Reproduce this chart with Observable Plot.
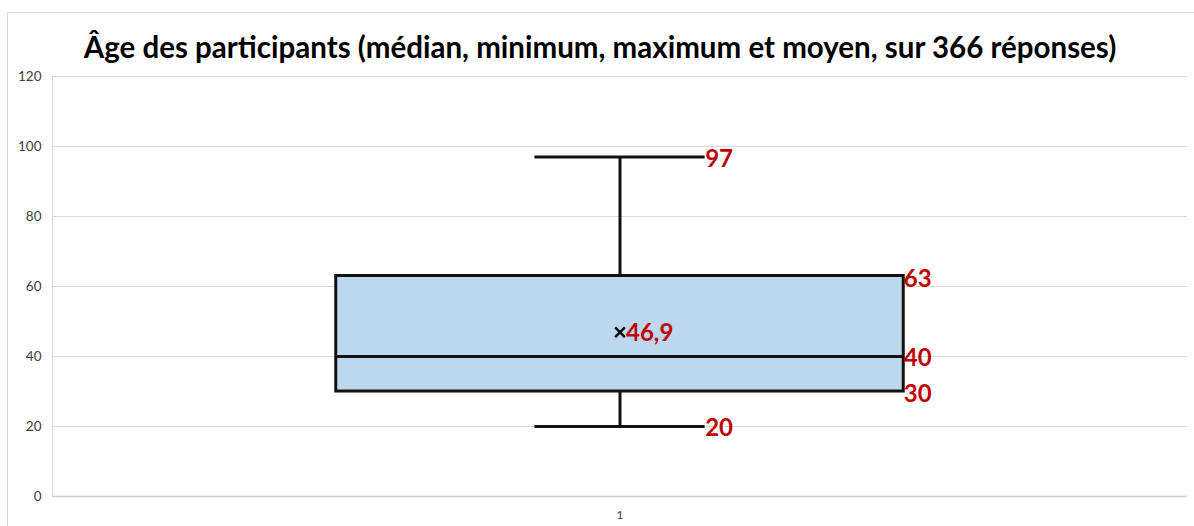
<!DOCTYPE html>
<html>
<head>
<meta charset="utf-8">
<script src="https://cdn.jsdelivr.net/npm/d3@7"></script>
<script src="https://cdn.jsdelivr.net/npm/@observablehq/plot@0.6"></script>
<style>
  html, body { margin: 0; padding: 0; background: #fff; }
  #wrap { position: relative; width: 1194px; height: 526px; overflow: hidden; }
  #frame { position: absolute; left: 7px; top: 12px; width: 1190px; height: 530px; border: 1px solid #d9d9d9; box-sizing: border-box; }
  #chart { position: absolute; left: 0; top: 0; }
</style>
</head>
<body>
<div id="wrap"><div id="frame"></div><div id="chart"></div></div>
<script>
// Age statistics of participants (366 responses)
const categories = ["1"];
const minimum = [20];
const q1 = [30];
const median = [40];
const q3 = [63];
const maximum = [97];
const mean = [46.9];
const yTicks = [0, 20, 40, 60, 80, 100, 120];
const title = "Âge des participants (médian, minimum, maximum et moyen, sur 366 réponses)";

const fmt = v => String(v).replace(".", ",");

const rows = categories.map((c, i) => ({
  cat: +c, min: minimum[i], q1: q1[i], med: median[i], q3: q3[i], max: maximum[i], mean: mean[i]
}));

const boxHalf = 0.5;   // half-width of the box, in x units
const capHalf = 0.15;  // half-width of the whisker caps
const red = "#c00000";

const chart = Plot.plot({
  width: 1194,
  height: 526,
  marginLeft: 52,
  marginRight: 7,
  marginTop: 76,
  marginBottom: 30,
  style: { fontFamily: "Lato, 'Open Sans', sans-serif", background: "transparent" },
  x: { domain: [0, 2], ticks: categories.map(Number), tickFormat: d => String(d), tickSize: 0, tickPadding: 12, label: null },
  y: { domain: [0, 120], ticks: yTicks, tickSize: 0, tickPadding: 12, label: null },
  marks: [
    Plot.gridY(yTicks, { stroke: "#d9d9d9", strokeOpacity: 1, strokeWidth: 1 }),
    Plot.ruleX([0], { stroke: "#d9d9d9", strokeWidth: 1 }),
    Plot.ruleY([0], { stroke: "#d0d0d0", strokeWidth: 1.5 }),
    Plot.axisY(yTicks, { tickSize: 0, tickPadding: 11, fontSize: 13.5, fill: "#404040", label: null }),
    Plot.axisX(categories.map(Number), { tickSize: 0, tickPadding: 14, fontSize: 12, fill: "#404040", label: null, tickFormat: d => String(d) }),
    // whiskers
    Plot.ruleX(rows, { x: "cat", y1: "q3", y2: "max", stroke: "#111", strokeWidth: 3 }),
    Plot.ruleX(rows, { x: "cat", y1: "min", y2: "q1", stroke: "#111", strokeWidth: 3 }),
    Plot.ruleY(rows, { y: "max", x1: d => d.cat - capHalf, x2: d => d.cat + capHalf, stroke: "#111", strokeWidth: 3 }),
    Plot.ruleY(rows, { y: "min", x1: d => d.cat - capHalf, x2: d => d.cat + capHalf, stroke: "#111", strokeWidth: 3 }),
    // box
    Plot.rect(rows, { x1: d => d.cat - boxHalf, x2: d => d.cat + boxHalf, y1: "q1", y2: "q3", fill: "#bdd7ee", stroke: "#111", strokeWidth: 3 }),
    Plot.ruleY(rows, { y: "med", x1: d => d.cat - boxHalf, x2: d => d.cat + boxHalf, stroke: "#111", strokeWidth: 3 }),
    // mean marker
    Plot.dot(rows, { x: "cat", y: "mean", symbol: "times", r: 4.5, stroke: "#111", strokeWidth: 2.5 }),
    // value labels
    Plot.text(rows, { x: d => d.cat + capHalf, y: "max", text: d => fmt(d.max), textAnchor: "start", dx: 0, dy: 2, fill: red, fontWeight: "bold", fontSize: 24 }),
    Plot.text(rows, { x: d => d.cat + capHalf, y: "min", text: d => fmt(d.min), textAnchor: "start", dx: 0, dy: 2, fill: red, fontWeight: "bold", fontSize: 24 }),
    Plot.text(rows, { x: d => d.cat + boxHalf, y: "q3", text: d => fmt(d.q3), textAnchor: "start", dx: 0, dy: 3, fill: red, fontWeight: "bold", fontSize: 24 }),
    Plot.text(rows, { x: d => d.cat + boxHalf, y: "med", text: d => fmt(d.med), textAnchor: "start", dx: 0, dy: 2, fill: red, fontWeight: "bold", fontSize: 24 }),
    Plot.text(rows, { x: d => d.cat + boxHalf, y: "q1", text: d => fmt(d.q1), textAnchor: "start", dx: 0, dy: 3, fill: red, fontWeight: "bold", fontSize: 24 }),
    Plot.text(rows, { x: "cat", y: "mean", text: d => fmt(d.mean), textAnchor: "start", dx: 6, dy: 1, fill: red, fontWeight: "bold", fontSize: 24 }),
    // title
    Plot.text([title], { frameAnchor: "top", dx: -20, dy: -39, text: d => d, fontSize: 29.5, fontWeight: "bold", fill: "#000" })
  ]
});

document.getElementById("chart").appendChild(chart);
</script>
</body>
</html>
